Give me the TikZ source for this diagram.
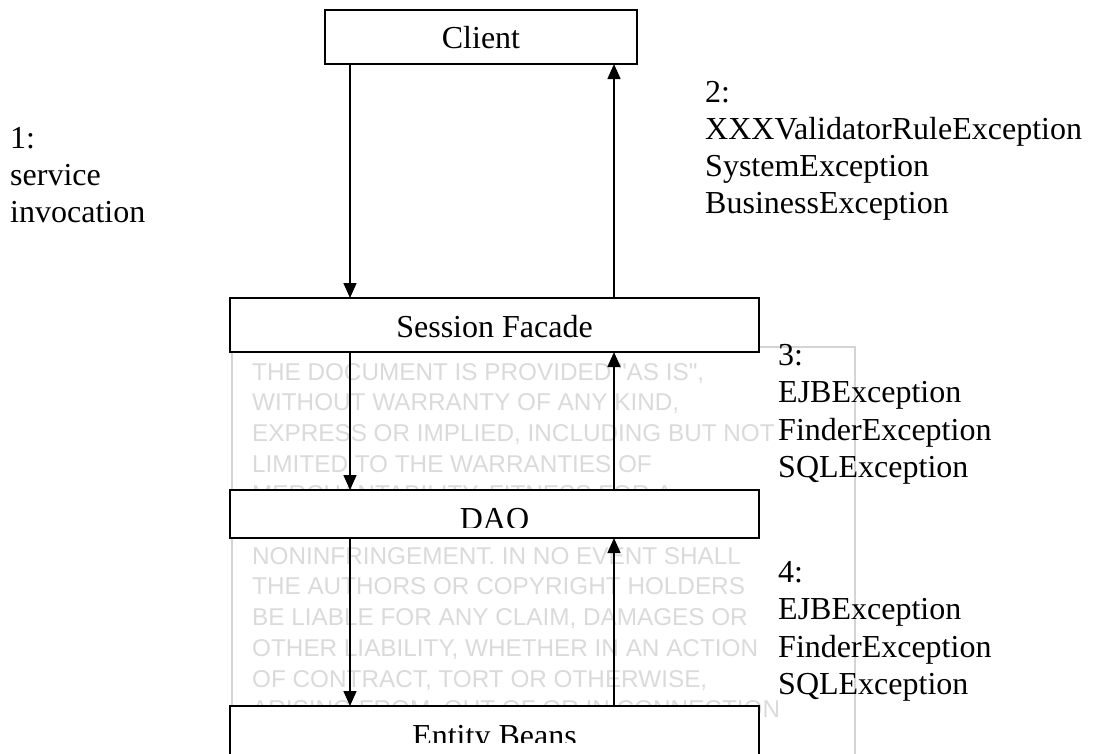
\documentclass[tikz,border=0pt]{standalone}
\usepackage{fontspec}
\setmainfont{Liberation Serif}
\newfontfamily\noticefont{Liberation Sans}
\usetikzlibrary{arrows.meta}
\definecolor{noticegray}{RGB}{218,218,218}
\definecolor{framegray}{RGB}{212,212,212}
\tikzset{
  layerbox/.style={draw=black, line width=2pt, fill=white, inner sep=0pt, outer sep=0pt, anchor=north west},
  boxtext/.style={anchor=base, inner sep=0pt, font=\fontsize{32}{37}\selectfont},
  msg/.style={anchor=base west, inner sep=0pt, font=\fontsize{32}{37}\selectfont},
  notice/.style={anchor=base west, inner sep=0pt, text=noticegray, font=\noticefont\fontsize{24.3}{30}\selectfont},
  noticeframe/.style={draw=framegray, line width=1.5pt, inner sep=0pt, anchor=north west},
  flow/.style={line width=1.5pt, -{Triangle[length=15pt, width=13pt]}},
}
\begin{document}
\begin{tikzpicture}[x=1pt, y=-1pt]
\useasboundingbox (0,0) rectangle (1094,753);
\clip (0,0) rectangle (1094,753);

% licence notice lying behind the layer stack
\node[noticeframe, minimum width=623pt, minimum height=460pt] (notice) at (231,346) {};
\foreach \ln [count=\i from 0] in {
  {THE DOCUMENT IS PROVIDED "AS IS",},
  {WITHOUT WARRANTY OF ANY KIND,},
  {EXPRESS OR IMPLIED, INCLUDING BUT NOT},
  {LIMITED TO THE WARRANTIES OF},
  {MERCHANTABILITY, FITNESS FOR A},
  {PARTICULAR PURPOSE AND},
  {NONINFRINGEMENT. IN NO EVENT SHALL},
  {THE AUTHORS OR COPYRIGHT HOLDERS},
  {BE LIABLE FOR ANY CLAIM, DAMAGES OR},
  {OTHER LIABILITY, WHETHER IN AN ACTION},
  {OF CONTRACT, TORT OR OTHERWISE,},
  {ARISING FROM, OUT OF OR IN CONNECTION}}
  \node[notice, name=nl\i] at (252,{380+30.7*\i}) {\ln};

% layers
\node[layerbox, minimum width=312pt, minimum height=54pt] (client) at (325,10) {};
\node[layerbox, minimum width=529pt, minimum height=54pt] (sf) at (230,298) {};
\node[layerbox, minimum width=529pt, minimum height=48pt] (dao) at (230,490) {};
\node[layerbox, minimum width=529pt, minimum height=90pt] (ent) at (230,706) {};

\node[boxtext] (clienttext) at (481,48) {Client};
\node[boxtext] (sftext) at (494.5,337) {Session Facade};
\begin{scope}
  \clip (230,490) rectangle (759,527);
  \node[boxtext] (daotext) at (494.5,529) {DAO};
\end{scope}
\begin{scope}
  \clip (230,706) rectangle (759,742);
  \node[boxtext] (enttext) at (494.5,746) {Entity Beans};
\end{scope}

% calls go down on the left, exceptions come back up on the right
\coordinate (down) at (350,0);
\coordinate (up) at (614,0);
\draw[flow] (client.south -| down) -- (sf.north -| down);
\draw[flow] (sf.north -| up) -- (client.south -| up);
\draw[flow] (sf.south -| down) -- (dao.north -| down);
\draw[flow] (dao.north -| up) -- (sf.south -| up);
\draw[flow] (dao.south -| down) -- (ent.north -| down);
\draw[flow] (ent.north -| up) -- (dao.south -| up);

% message labels
\foreach \t [count=\i from 0] in {1:, service, invocation}
  \node[msg, name=ma\i] at (10,{148+37*\i}) {\t};
\foreach \t [count=\i from 0] in {2:, XXXValidatorRuleException, SystemException, BusinessException}
  \node[msg, name=mb\i] at (705,{102+37.3*\i}) {\t};
\foreach \t [count=\i from 0] in {3:, EJBException, FinderException, SQLException}
  \node[msg, name=mc\i] at (778,{365+37.5*\i}) {\t};
\foreach \t [count=\i from 0] in {4:, EJBException, FinderException, SQLException}
  \node[msg, name=md\i] at (778,{582+37.5*\i}) {\t};
\end{tikzpicture}
\end{document}
